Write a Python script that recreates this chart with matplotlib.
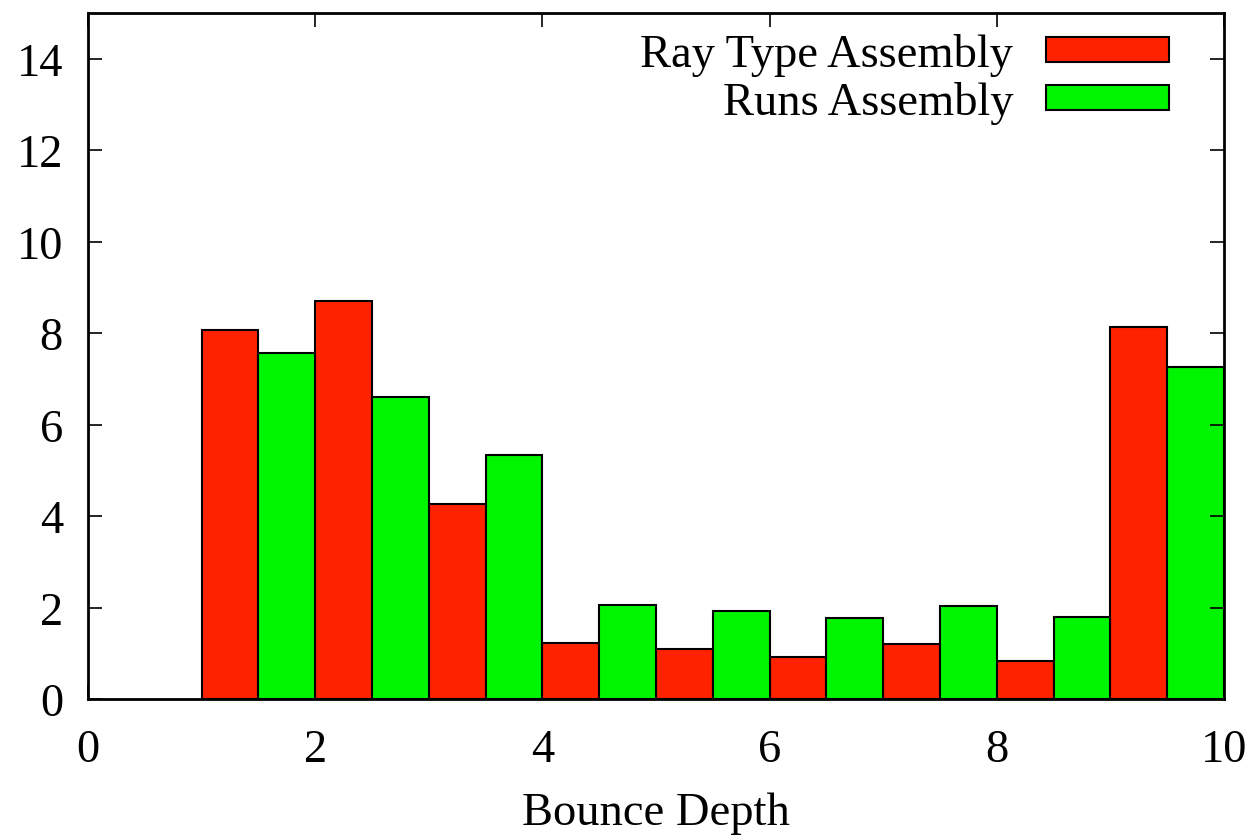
import matplotlib
matplotlib.use('Agg')
import matplotlib.pyplot as plt
from matplotlib.patches import Patch

# --- data ---
depth = [1, 2, 3, 4, 5, 6, 7, 8, 9]
ray_type = [8.07, 8.71, 4.27, 1.22, 1.09, 0.92, 1.20, 0.83, 8.14]
runs = [7.57, 6.61, 5.34, 2.06, 1.93, 1.77, 2.03, 1.79, 7.26]
labels = ['Ray Type Assembly', 'Runs Assembly']
colors = ['#ff2200', '#00f500']

plt.rcParams['font.family'] = ['Liberation Serif', 'DejaVu Serif']
plt.rcParams['font.size'] = 33.5

fig = plt.figure(figsize=(12.55, 8.37), dpi=100)
ax = fig.add_axes([0.0701, 0.1637, 0.9052, 0.8196])

w = 0.5
ax.bar(depth, ray_type, width=w, align='edge', color=colors[0], edgecolor='black', lw=1.5)
ax.bar([d + w for d in depth], runs, width=w, align='edge', color=colors[1], edgecolor='black', lw=1.5)

ax.set_xlim(0, 10)
ax.set_ylim(0, 15)
ax.set_xticks(range(0, 11, 2))
ax.set_yticks(range(0, 15, 2))
ax.tick_params(direction='in', length=10, width=1.2, top=True, right=True,
               labeltop=False, labelright=False)
ax.tick_params(axis='y', pad=18)
ax.tick_params(axis='x', pad=21)
for s in ax.spines.values():
    s.set_linewidth(2)
ax.set_xlabel('Bounce Depth', labelpad=15)

handles = [Patch(facecolor=c, edgecolor='black', lw=1.5) for c in colors]
ax.legend(handles, labels, loc='upper right', frameon=False, markerfirst=False,
          handlelength=2.65, handleheight=0.45, handletextpad=0.7, labelspacing=0.1,
          borderaxespad=0.0, bbox_to_anchor=(0.968, 0.998))

fig.savefig('out.png', dpi=100)
